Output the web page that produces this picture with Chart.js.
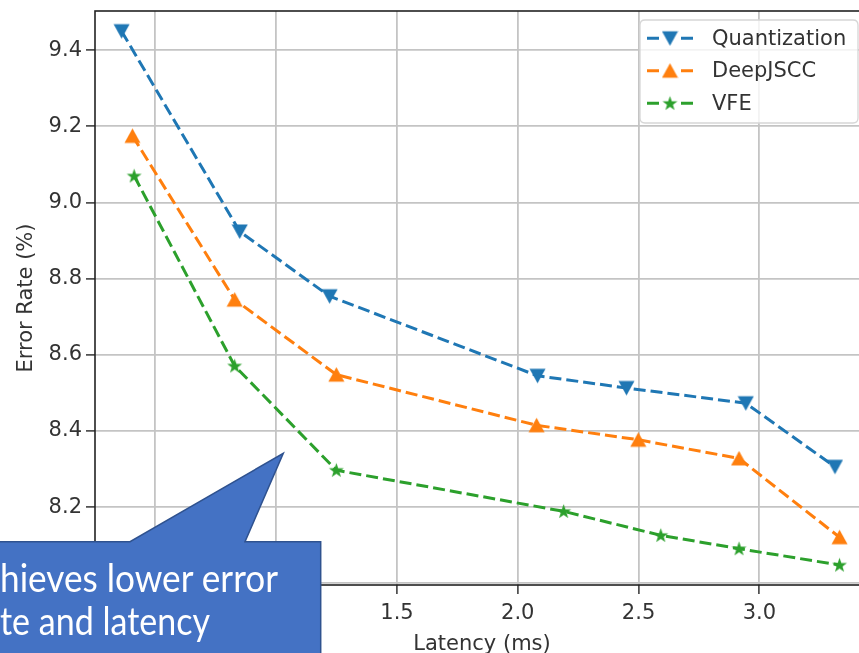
<!DOCTYPE html>
<html><head><meta charset="utf-8">
<script src="https://cdn.jsdelivr.net/npm/chart.js@4"></script>
<style>
html,body{margin:0;padding:0;overflow:hidden;background:#fff;}
#wrap{position:relative;width:859px;height:653px;overflow:hidden;background:#fff;}
#c{position:absolute;left:0;top:0;}
#callout{position:absolute;left:0;top:0;}
</style></head><body>
<div id="wrap">
<canvas id="c" width="880" height="657"></canvas>
<svg id="callout" width="859" height="653" xmlns="http://www.w3.org/2000/svg">
  <polygon points="-5,541.7 130,541.7 283.3,453.3 245,541.7 320.7,541.7 320.7,665 -5,665" fill="#4472C4" stroke="#2F528F" stroke-width="1.5"/>
  <text x="0" y="591.7" fill="#ffffff" font-family="Lato, 'Open Sans', sans-serif" font-size="39" textLength="278" lengthAdjust="spacingAndGlyphs">hieves lower error</text>
  <text x="0" y="635" fill="#ffffff" font-family="Lato, 'Open Sans', sans-serif" font-size="39" textLength="210" lengthAdjust="spacingAndGlyphs">te and latency</text>
</svg>
</div>
<script>
// ---- data ----
const seriesNames = ['Quantization', 'DeepJSCC', 'VFE'];
const quantLatency = [0.36, 0.849, 1.221, 2.082, 2.450, 2.944, 3.313];
const quantError   = [9.45, 8.924, 8.754, 8.545, 8.513, 8.473, 8.306];
const deepLatency  = [0.405, 0.828, 1.249, 2.078, 2.499, 2.916, 3.332];
const deepError    = [9.175, 8.745, 8.548, 8.415, 8.377, 8.328, 8.121];
const vfeLatency   = [0.412, 0.828, 1.249, 2.190, 2.592, 2.916, 3.332];
const vfeError     = [9.070, 8.571, 8.297, 8.189, 8.126, 8.091, 8.048];
const xTicks = [0.5, 1.0, 1.5, 2.0, 2.5, 3.0];
const yTicks = [8.0, 8.2, 8.4, 8.6, 8.8, 9.0, 9.2, 9.4];
const xTitle = 'Latency (ms)';
const yTitle = 'Error Rate (%)';

const colors = ['#1f77b4', '#ff7f0e', '#2ca02c'];
const FONT = "'DejaVu Sans', sans-serif";

function makeMarker(kind, color) {
  const s = 17;
  const c = document.createElement('canvas');
  c.width = s; c.height = s;
  const g = c.getContext('2d');
  g.fillStyle = color;
  g.beginPath();
  if (kind === 'down') {
    g.moveTo(0.5, 1.5); g.lineTo(16.5, 1.5); g.lineTo(8.5, 16);
  } else if (kind === 'up') {
    g.moveTo(8.5, 1); g.lineTo(16.5, 15.5); g.lineTo(0.5, 15.5);
  } else {
    for (let i = 0; i < 10; i++) {
      const r = i % 2 ? 3.1 : 7.8;
      const a = -Math.PI / 2 + i * Math.PI / 5;
      const px = 8.5 + r * Math.cos(a), py = 9 + r * Math.sin(a);
      if (i === 0) g.moveTo(px, py); else g.lineTo(px, py);
    }
  }
  g.closePath();
  g.fill();
  return c;
}
const markers = [makeMarker('down', colors[0]), makeMarker('up', colors[1]), makeMarker('star', colors[2])];

function pts(xs, ys) { return xs.map((x, i) => ({x: x, y: ys[i]})); }
const seriesData = [pts(quantLatency, quantError), pts(deepLatency, deepError), pts(vfeLatency, vfeError)];

const datasets = seriesNames.map((name, i) => ({
  label: name,
  data: seriesData[i],
  borderColor: colors[i],
  backgroundColor: colors[i],
  borderWidth: 3,
  borderDash: [12, 5],
  pointStyle: markers[i],
  pointRadius: 8,
  pointHoverRadius: 8,
  showLine: true,
  fill: false,
  tension: 0
}));

const framePlugin = {
  id: 'frame',
  afterDatasetsDraw(chart) {
    const {ctx, chartArea: a} = chart;
    ctx.save();
    ctx.strokeStyle = '#222';
    ctx.lineWidth = 1.6;
    ctx.strokeRect(a.left, a.top, a.right - a.left, a.bottom - a.top);
    ctx.restore();
  },
  afterDraw(chart) {
    const ctx = chart.ctx;
    ctx.save();
    const lx = 640, ly = 20, lw = 218, lh = 103, r = 5;
    ctx.beginPath();
    ctx.moveTo(lx + r, ly);
    ctx.lineTo(lx + lw - r, ly); ctx.quadraticCurveTo(lx + lw, ly, lx + lw, ly + r);
    ctx.lineTo(lx + lw, ly + lh - r); ctx.quadraticCurveTo(lx + lw, ly + lh, lx + lw - r, ly + lh);
    ctx.lineTo(lx + r, ly + lh); ctx.quadraticCurveTo(lx, ly + lh, lx, ly + lh - r);
    ctx.lineTo(lx, ly + r); ctx.quadraticCurveTo(lx, ly, lx + r, ly);
    ctx.closePath();
    ctx.fillStyle = 'rgba(255,255,255,0.8)';
    ctx.fill();
    ctx.strokeStyle = '#d6d6d6';
    ctx.lineWidth = 1.3;
    ctx.stroke();
    const rows = [38.3, 70.7, 103.3];
    seriesNames.forEach((name, i) => {
      const y = rows[i];
      ctx.strokeStyle = colors[i];
      ctx.lineWidth = 3;
      ctx.setLineDash([]);
      ctx.beginPath();
      ctx.moveTo(647, y); ctx.lineTo(659, y);
      ctx.moveTo(681, y); ctx.lineTo(693, y);
      ctx.stroke();
      const m = markers[i];
      ctx.drawImage(m, 670 - m.width / 2, y - m.height / 2);
      ctx.fillStyle = '#333';
      ctx.font = '21px ' + FONT;
      ctx.textBaseline = 'middle';
      ctx.textAlign = 'left';
      ctx.fillText(name, 712, y + 1);
    });
    ctx.restore();
  }
};

new Chart(document.getElementById('c'), {
  type: 'line',
  data: {datasets: datasets},
  options: {
    responsive: false,
    animation: false,
    devicePixelRatio: 1,
    layout: {padding: {left: 0, right: 10, top: 8, bottom: 0}},
    plugins: {legend: {display: false}, tooltip: {enabled: false}},
    scales: {
      x: {
        type: 'linear',
        min: 0.25,
        max: 3.454,
        afterFit(s) { s.height = 72; s.paddingLeft = 0; s.paddingRight = 0; },
        afterBuildTicks(s) { s.ticks = xTicks.map(v => ({value: v})); },
        border: {display: false},
        grid: {color: '#c4c4c4', lineWidth: 1.8, tickLength: 9, tickColor: '#333', tickWidth: 1.5},
        ticks: {
          autoSkip: false, maxRotation: 0, padding: 7,
          color: '#333', font: {family: FONT, size: 21},
          callback: v => Number(v).toFixed(1)
        },
        title: {display: true, text: xTitle, color: '#333', font: {family: FONT, size: 21}, padding: {top: 0, bottom: 0}}
      },
      y: {
        type: 'linear',
        min: 7.9956,
        max: 9.503,
        afterFit(s) { s.width = 95; s.paddingTop = 0; s.paddingBottom = 0; },
        afterBuildTicks(s) { s.ticks = yTicks.map(v => ({value: v})); },
        border: {display: false},
        grid: {color: '#c4c4c4', lineWidth: 1.8, tickLength: 9, tickColor: '#333', tickWidth: 1.5},
        ticks: {
          autoSkip: false, padding: 4,
          color: '#333', font: {family: FONT, size: 21},
          callback: v => Number(v).toFixed(1)
        },
        title: {display: true, text: yTitle, color: '#333', font: {family: FONT, size: 21}, padding: {top: 14, bottom: 0}}
      }
    }
  },
  plugins: [framePlugin]
});
</script>
</body></html>
